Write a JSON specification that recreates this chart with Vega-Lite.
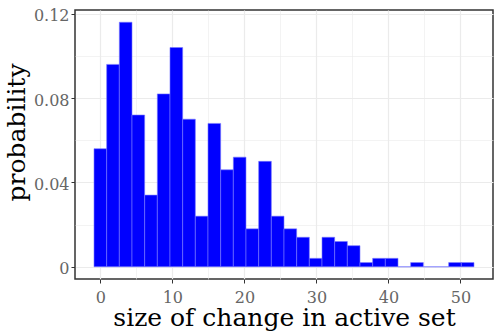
{
  "$schema": "https://vega.github.io/schema/vega-lite/v6.json",
  "width": 418,
  "height": 269,
  "autosize": {"type": "none"},
  "padding": {"left": 75, "top": 10, "right": 3, "bottom": 55},
  "background": "white",
  "config": {
    "view": {"stroke": "#333333", "strokeWidth": 1.5},
    "axis": {
      "domain": false,
      "gridColor": "#EBEBEB",
      "tickColor": "#333333",
      "tickSize": 4,
      "tickWidth": 1,
      "labelFont": "DejaVu Serif",
      "labelFontSize": 16,
      "labelColor": "#666666",
      "titleFont": "DejaVu Serif",
      "titleFontSize": 25,
      "titleFontWeight": "normal",
      "titleColor": "#000000"
    }
  },
  "data": {
    "values": [
      {"start": -0.879, "end": 0.879, "probability": 0.056},
      {"start": 0.879, "end": 2.638, "probability": 0.096},
      {"start": 2.638, "end": 4.397, "probability": 0.116},
      {"start": 4.397, "end": 6.155, "probability": 0.072},
      {"start": 6.155, "end": 7.914, "probability": 0.034},
      {"start": 7.914, "end": 9.672, "probability": 0.082},
      {"start": 9.672, "end": 11.431, "probability": 0.104},
      {"start": 11.431, "end": 13.190, "probability": 0.070},
      {"start": 13.190, "end": 14.948, "probability": 0.024},
      {"start": 14.948, "end": 16.707, "probability": 0.068},
      {"start": 16.707, "end": 18.466, "probability": 0.046},
      {"start": 18.466, "end": 20.224, "probability": 0.052},
      {"start": 20.224, "end": 21.983, "probability": 0.018},
      {"start": 21.983, "end": 23.741, "probability": 0.050},
      {"start": 23.741, "end": 25.500, "probability": 0.024},
      {"start": 25.500, "end": 27.259, "probability": 0.018},
      {"start": 27.259, "end": 29.017, "probability": 0.014},
      {"start": 29.017, "end": 30.776, "probability": 0.004},
      {"start": 30.776, "end": 32.534, "probability": 0.014},
      {"start": 32.534, "end": 34.293, "probability": 0.012},
      {"start": 34.293, "end": 36.052, "probability": 0.010},
      {"start": 36.052, "end": 37.810, "probability": 0.002},
      {"start": 37.810, "end": 39.569, "probability": 0.004},
      {"start": 39.569, "end": 41.328, "probability": 0.004},
      {"start": 41.328, "end": 43.086, "probability": 0.0},
      {"start": 43.086, "end": 44.845, "probability": 0.002},
      {"start": 44.845, "end": 46.603, "probability": 0.0},
      {"start": 46.603, "end": 48.362, "probability": 0.0},
      {"start": 48.362, "end": 50.121, "probability": 0.002},
      {"start": 50.121, "end": 51.879, "probability": 0.002}
    ]
  },
  "mark": {"type": "bar", "fill": "#0000FF", "stroke": "#7878FF", "strokeWidth": 0.6},
  "encoding": {
    "x": {
      "field": "start",
      "type": "quantitative",
      "scale": {"domain": [-3.517, 54.517], "nice": false, "zero": false},
      "axis": {
        "title": "size of change in active set",
        "values": [0, 5, 10, 15, 20, 25, 30, 35, 40, 45, 50],
        "labelExpr": "datum.value % 10 == 0 ? datum.label : ''",
        "gridWidth": {"condition": {"test": "datum.value % 10 != 0", "value": 0.6}, "value": 1.2},
        "tickOpacity": {"condition": {"test": "datum.value % 10 != 0", "value": 0}, "value": 1},
        "labelBaseline": "alphabetic",
        "labelPadding": 19,
        "titleBaseline": "alphabetic",
        "titleY": 46
      }
    },
    "x2": {"field": "end"},
    "y": {
      "field": "probability",
      "type": "quantitative",
      "scale": {"domain": [-0.0058, 0.1218], "nice": false, "zero": false},
      "axis": {
        "title": "probability",
        "values": [0, 0.02, 0.04, 0.06, 0.08, 0.1, 0.12],
        "labelExpr": "datum.value == 0 ? '0' : (round(datum.value * 100) % 4 == 0 ? format(datum.value, '.2f') : '')",
        "gridWidth": {"condition": {"test": "round(datum.value * 100) % 4 != 0", "value": 0.6}, "value": 1.2},
        "tickOpacity": {"condition": {"test": "round(datum.value * 100) % 4 != 0", "value": 0}, "value": 1},
        "labelPadding": 2,
        "labelBaseline": "middle",
        "labelOffset": 2,
        "titleBaseline": "alphabetic",
        "titleAngle": -90,
        "titleX": -51,
        "titleY": 122,
        "titleAlign": "center"
      }
    },
    "y2": {"datum": 0}
  }
}
